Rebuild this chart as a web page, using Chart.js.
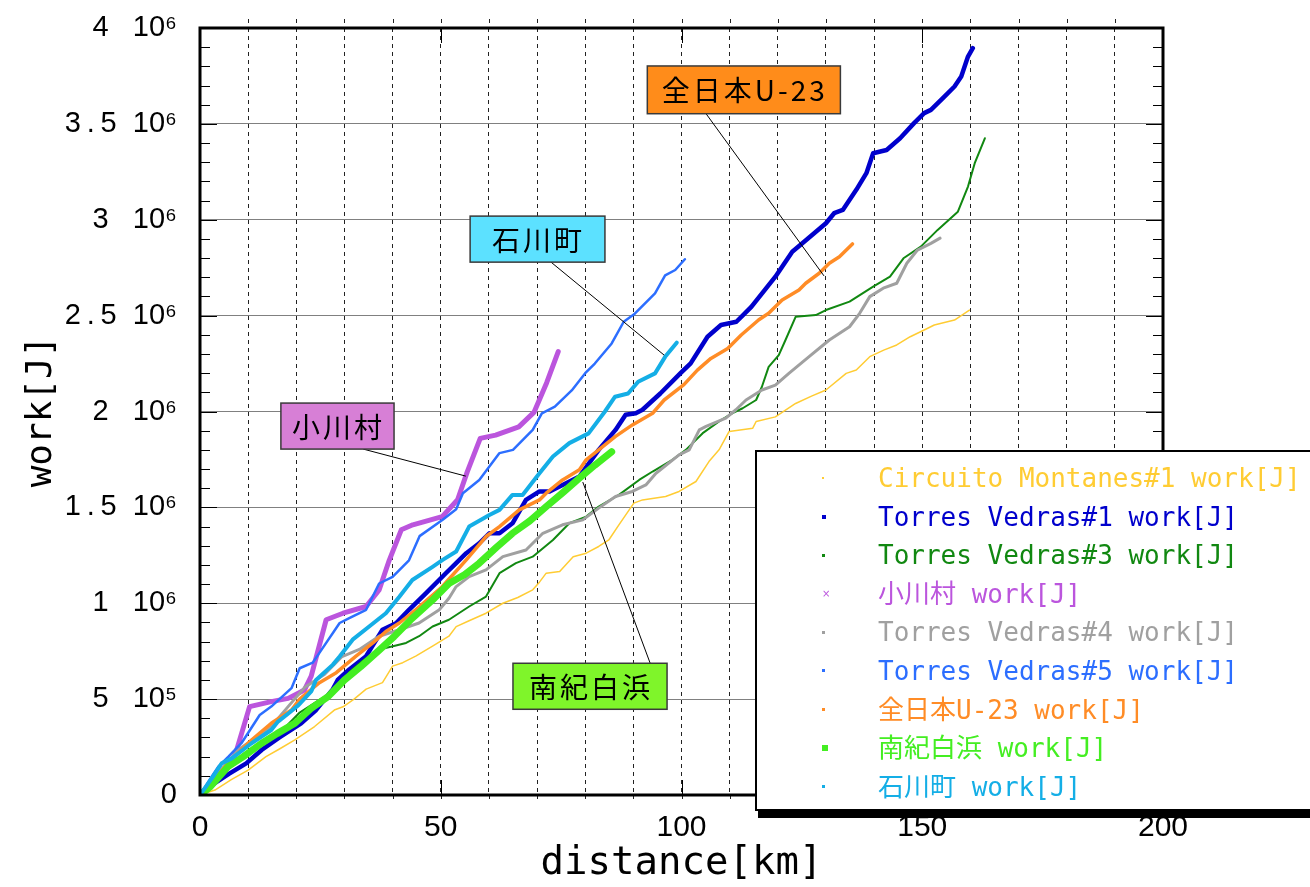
<!DOCTYPE html>
<html>
<head>
<meta charset="utf-8">
<title>work - distance</title>
<script src="https://cdn.jsdelivr.net/npm/chart.js"></script>
<style>
    html, body { margin: 0; padding: 0; background: #fff; overflow: hidden; }
    #wrap { position: relative; width: 1310px; height: 887px; }
    #legend { position: absolute; left: 755px; top: 450px; width: 600px; height: 350px; padding-top: 7px;
              border: 2px solid #000; background: #fff; box-shadow: 3px 7px 0 #000; }
    .item { position: relative; height: 38.6px; line-height: 38.6px; white-space: pre;
            font-family: "DejaVu Sans Mono", "Noto Sans CJK JP", monospace; font-size: 26px; }
    .mark { position: absolute; left: 65px; top: 18px; width: 3px; height: 3px; }
    .txt { position: absolute; left: 121px; top: 0; }
</style>
</head>
<body>
<div id="wrap">
    <canvas id="workChart" width="1310" height="887"></canvas>
    <div id="legend"></div>
</div>
<script>
// distance [km], work [10^6 J]
var circuitoMontanes1 = [[0,0],[3.1,0.026],[6.5,0.08],[10,0.13],[13.7,0.2],[16.5,0.24],[19.7,0.287],[23.8,0.357],[27.9,0.443],[29.7,0.46],[32,0.5],[34.5,0.552],[37.9,0.586],[40,0.672],[42.1,0.69],[44.8,0.724],[48.3,0.776],[51.7,0.828],[53.2,0.878],[56,0.91],[59.4,0.948],[62.9,1.0],[66,1.03],[69.1,1.07],[70.5,1.11],[71.9,1.157],[74.7,1.165],[77.5,1.243],[80.2,1.261],[82.8,1.296],[84.9,1.33],[87,1.409],[90.1,1.522],[91.9,1.539],[96.7,1.557],[99.5,1.583],[103,1.635],[105.7,1.739],[107.8,1.8],[109.9,1.896],[114.8,1.913],[115.5,1.948],[119.5,1.972],[123.7,2.042],[127,2.08],[130,2.112],[134.2,2.199],[136.3,2.216],[139.1,2.286],[142,2.32],[144.7,2.347],[147.5,2.39],[150.4,2.425],[152.5,2.451],[156.7,2.477],[159.8,2.529]];
var torresVedras1 = [[0,0],[3,0.06],[6,0.11],[9.6,0.165],[12.8,0.235],[16.5,0.3],[21,0.374],[24,0.44],[27.6,0.552],[28.6,0.6],[31,0.655],[34.5,0.724],[37.9,0.862],[40.7,0.896],[43.4,0.966],[46.9,1.052],[51,1.155],[53.2,1.209],[55.3,1.261],[58,1.313],[60.1,1.365],[62.2,1.365],[64.9,1.417],[67.7,1.539],[70.5,1.583],[72.6,1.583],[75.3,1.617],[78.8,1.661],[82.8,1.8],[86.3,1.904],[88.4,1.983],[90.5,1.991],[91.9,2.009],[95.6,2.094],[99.8,2.2],[101.9,2.251],[105.4,2.39],[108.2,2.451],[111.4,2.468],[114.5,2.546],[119.5,2.703],[123,2.833],[125.1,2.877],[130,2.982],[131.7,3.034],[133.5,3.051],[136.3,3.156],[138.4,3.243],[139.8,3.347],[142.6,3.364],[145.4,3.425],[148.3,3.504],[150.4,3.556],[151.8,3.573],[154.6,3.642],[156.7,3.695],[158.1,3.747],[159.5,3.851],[160.5,3.895]];
var torresVedras3 = [[0,0],[3,0.07],[6.1,0.165],[10,0.22],[13,0.27],[16.5,0.322],[20.7,0.43],[24.8,0.496],[29,0.56],[31,0.64],[33.8,0.7],[37.2,0.759],[40.7,0.78],[42.8,0.793],[45.5,0.828],[48.3,0.879],[51.7,0.914],[55.9,0.983],[59.4,1.035],[62.2,1.157],[65.6,1.209],[69.1,1.243],[73.3,1.33],[76.7,1.417],[80.2,1.452],[82.8,1.504],[87,1.565],[91.2,1.643],[94,1.687],[98.1,1.748],[100.9,1.8],[104.4,1.887],[107.8,1.948],[110.6,1.991],[112.7,2.017],[115.5,2.06],[116.7,2.129],[118.1,2.233],[120.2,2.294],[121.6,2.373],[123.7,2.494],[127.9,2.503],[130,2.529],[134.9,2.573],[139.8,2.651],[143.3,2.703],[146.1,2.799],[149.7,2.86],[153.2,2.947],[157.4,3.042],[159.5,3.173],[160.9,3.295],[163,3.425]];
var ogawa = [[0,0],[3.1,0.078],[7.2,0.2],[10.3,0.461],[14.8,0.487],[18.3,0.504],[21.7,0.548],[23.1,0.62],[26.2,0.914],[29.7,0.948],[34.5,0.983],[37.2,1.069],[39.3,1.224],[41.8,1.383],[44.2,1.409],[50.3,1.452],[53.5,1.54],[55.5,1.685],[58.2,1.86],[61.4,1.877],[66.2,1.92],[69.4,1.997],[72,2.15],[74.4,2.312]];
var torresVedras4 = [[0,0],[3,0.09],[7.9,0.235],[14.8,0.357],[18.3,0.461],[21.7,0.56],[25.9,0.63],[29.5,0.722],[33.1,0.759],[37.2,0.828],[41.4,0.862],[45.5,0.897],[49.7,0.966],[51.7,1.026],[53.2,1.087],[55.9,1.139],[59.4,1.174],[62.9,1.243],[67.7,1.278],[71.2,1.365],[75.3,1.409],[79.5,1.435],[82.8,1.496],[86.3,1.557],[89.8,1.583],[92.6,1.617],[94.7,1.678],[99.5,1.774],[101.6,1.8],[103.7,1.904],[105.1,1.922],[109.2,1.965],[111.3,2.009],[113.4,2.06],[116.7,2.112],[119.5,2.138],[122.3,2.199],[126.5,2.286],[130.7,2.373],[134.9,2.442],[137,2.512],[139.1,2.599],[141.9,2.643],[144.7,2.669],[146.8,2.773],[149,2.842],[151.8,2.877],[153.7,2.904]];
var torresVedras5 = [[0,0],[2,0.08],[3.8,0.148],[5.9,0.2],[8.6,0.27],[12.4,0.417],[14.8,0.461],[19,0.557],[20.7,0.661],[23.4,0.69],[24.8,0.741],[29,0.897],[31,0.922],[34.5,0.966],[37.2,1.103],[40,1.138],[43.4,1.224],[45.6,1.35],[50.4,1.435],[53.2,1.49],[54.6,1.574],[58,1.643],[62.2,1.783],[65,1.8],[69.1,1.904],[71,1.99],[73.7,2.025],[77.2,2.11],[80,2.2],[82,2.25],[85.5,2.355],[88,2.468],[90.3,2.51],[94.5,2.616],[96.6,2.71],[98.7,2.738],[100.7,2.794]];
var zenNihonU23 = [[0,0],[3,0.08],[5.9,0.17],[10.7,0.287],[14.8,0.374],[19,0.443],[20.7,0.5],[24.8,0.586],[28.3,0.638],[32.4,0.724],[35.9,0.793],[38.6,0.853],[41.4,0.897],[44.8,0.966],[50.3,1.086],[51.5,1.12],[55.3,1.226],[59.4,1.348],[62.2,1.4],[66.3,1.487],[70.5,1.539],[71.9,1.574],[75.3,1.643],[78.8,1.696],[80.2,1.748],[82.8,1.8],[86.3,1.87],[89.8,1.93],[94,1.991],[96.4,2.06],[100.5,2.14],[103.3,2.216],[106.1,2.277],[109.6,2.329],[112.4,2.399],[116,2.477],[118.1,2.512],[120.9,2.581],[124.4,2.634],[125.8,2.669],[128.6,2.721],[130.7,2.773],[132.8,2.807],[135.5,2.874]];
var nankiShirahama = [[0,0],[2,0.04],[5.9,0.15],[9,0.2],[12.8,0.27],[16,0.32],[19.7,0.374],[23,0.45],[26.6,0.513],[30,0.6],[33.4,0.67],[37,0.75],[40.3,0.826],[44,0.92],[48.3,1.017],[51.7,1.103],[55,1.15],[58,1.209],[61.5,1.29],[64.9,1.365],[68.5,1.43],[71.9,1.504],[75.5,1.58],[78.8,1.652],[82,1.72],[85.5,1.79]];
var ishikawa = [[0,0],[2.7,0.096],[4.5,0.165],[6.6,0.191],[10.7,0.27],[14.8,0.339],[16.2,0.383],[18.6,0.43],[20.5,0.47],[23.1,0.54],[24.1,0.6],[27.6,0.68],[29,0.722],[31.7,0.81],[35.2,0.88],[38.6,0.948],[41.4,1.034],[44.1,1.121],[48.3,1.19],[50.4,1.226],[53.2,1.27],[55.9,1.4],[60.1,1.46],[62.2,1.487],[64.9,1.565],[67,1.565],[70.5,1.678],[73.3,1.765],[76.7,1.835],[80.7,1.886],[84.1,2.0],[86.2,2.077],[88.9,2.094],[91,2.155],[94.5,2.199],[96.6,2.285],[99,2.359]];

var seriesLabels = ['Circuito Montanes#1 work[J]', 'Torres Vedras#1 work[J]', 'Torres Vedras#3 work[J]', '小川村 work[J]',
    'Torres Vedras#4 work[J]', 'Torres Vedras#5 work[J]', '全日本U-23 work[J]', '南紀白浜 work[J]', '石川町 work[J]'];
var seriesData = [circuitoMontanes1, torresVedras1, torresVedras3, ogawa, torresVedras4, torresVedras5, zenNihonU23, nankiShirahama, ishikawa];

var xTickLabels = { 0: '0', 50: '50', 100: '100', 150: '150', 200: '200' };
var yTickValues = [0, 5e5, 1e6, 1.5e6, 2e6, 2.5e6, 3e6, 3.5e6, 4e6];
var yTickLabels = ['0', '5   10⁵', '1   10⁶', '1\u2009.\u20095  10⁶', '2   10⁶', '2\u2009.\u20095  10⁶', '3   10⁶', '3\u2009.\u20095  10⁶', '4   10⁶'];

// callout boxes, in data coordinates
var callouts = [
    { text: '全日本U-23', fill: '#FF8C1A', box: [92.9, 3.802e6, 133.0, 3.553e6], from: [105.1, 3.553e6], to: [129.6, 2.707e6] },
    { text: '石川町', fill: '#5CE1FF', box: [56.1, 3.019e6, 84.1, 2.779e6], from: [72.9, 2.779e6], to: [96.4, 2.294e6] },
    { text: '小川村', fill: '#D77FD6', box: [16.8, 2.044e6, 40.3, 1.804e6], from: [33.9, 1.804e6], to: [55.2, 1.663e6] },
    { text: '南紀白浜', fill: '#7FF52A', box: [65.0, 0.687e6, 97.0, 0.447e6], from: [93.5, 0.687e6], to: [79.5, 1.632e6] }
];

var colors = ['#FFCC33', '#0000CC', '#118811', '#BB55DD', '#A0A0A0', '#2C6EFF', '#FF8C26', '#44EE22', '#14AEE6'];
var widths = [1.5, 4.5, 2, 5, 3, 2.5, 3.5, 7, 4];
var markSize = [2, 4, 3, 0, 3, 3, 3, 6, 3];

var datasets = seriesData.map(function (s, i) {
    return {
        label: seriesLabels[i],
        data: s.map(function (p) { return { x: p[0], y: p[1] * 1e6 }; }),
        borderColor: colors[i],
        backgroundColor: colors[i],
        borderWidth: widths[i],
        pointRadius: 0,
        tension: 0,
        borderJoinStyle: 'round',
        borderCapStyle: 'round',
        order: seriesData.length - i
    };
});

var decor = {
    id: 'decor',
    beforeDatasetsDraw: function (chart) {
        var ctx = chart.ctx, a = chart.chartArea, x = chart.scales.x, y = chart.scales.y;
        ctx.save();
        ctx.lineWidth = 1;
        ctx.strokeStyle = '#222';
        ctx.setLineDash([4, 4]);
        for (var k = 10; k < 200; k += 10) {
            var px = Math.round(x.getPixelForValue(k)) + 0.5;
            ctx.beginPath();
            ctx.moveTo(px, a.top - 9); ctx.lineTo(px, a.top);
            ctx.moveTo(px, a.bottom); ctx.lineTo(px, a.bottom + 8);
            ctx.stroke();
        }
        ctx.setLineDash([]);
        ctx.strokeStyle = '#000';
        for (var i = 1; i < 40; i++) {
            var py = Math.round(y.getPixelForValue(i * 1e5)) + 0.5;
            var len = (i % 5 === 0) ? 17 : 10;
            ctx.beginPath();
            ctx.moveTo(a.left, py); ctx.lineTo(a.left + len, py);
            ctx.moveTo(a.right, py); ctx.lineTo(a.right - len, py);
            ctx.stroke();
        }
        for (var m = 50; m < 200; m += 50) {
            var qx = Math.round(x.getPixelForValue(m)) + 0.5;
            ctx.beginPath();
            ctx.moveTo(qx, a.bottom); ctx.lineTo(qx, a.bottom - 15);
            ctx.moveTo(qx, a.top); ctx.lineTo(qx, a.top + 15);
            ctx.stroke();
        }
        ctx.restore();
    },
    afterDatasetsDraw: function (chart) {
        var ctx = chart.ctx, a = chart.chartArea, x = chart.scales.x, y = chart.scales.y;
        ctx.save();
        ctx.strokeStyle = '#000';
        ctx.lineWidth = 3;
        ctx.strokeRect(a.left, a.top, a.right - a.left, a.bottom - a.top);

        callouts.forEach(function (c) {
            ctx.lineWidth = 1;
            ctx.strokeStyle = '#000';
            ctx.beginPath();
            ctx.moveTo(x.getPixelForValue(c.from[0]), y.getPixelForValue(c.from[1]));
            ctx.lineTo(x.getPixelForValue(c.to[0]), y.getPixelForValue(c.to[1]));
            ctx.stroke();
            var x1 = x.getPixelForValue(c.box[0]), y1 = y.getPixelForValue(c.box[1]);
            var x2 = x.getPixelForValue(c.box[2]), y2 = y.getPixelForValue(c.box[3]);
            ctx.fillStyle = c.fill;
            ctx.fillRect(x1, y1, x2 - x1, y2 - y1);
            ctx.lineWidth = 1.5;
            ctx.strokeStyle = '#3a3a3a';
            ctx.strokeRect(x1, y1, x2 - x1, y2 - y1);
            ctx.fillStyle = '#000';
            ctx.font = '28px "Noto Sans CJK JP"';
            ctx.letterSpacing = '3px';
            ctx.textAlign = 'center';
            ctx.textBaseline = 'middle';
            ctx.fillText(c.text, (x1 + x2) / 2 + 1, (y1 + y2) / 2 + 1);
        });
        ctx.restore();
    }
};

var ctx = document.getElementById('workChart').getContext('2d');
var workChart = new Chart(ctx, {
    type: 'line',
    data: { datasets: datasets },
    plugins: [decor],
    options: {
        responsive: false,
        animation: false,
        layout: { padding: { top: 28, right: 147, left: 0, bottom: 0 } },
        plugins: { legend: { display: false }, tooltip: { enabled: false } },
        scales: {
            x: {
                type: 'linear',
                min: 0, max: 200,
                afterFit: function (s) { s.height = 92; },
                afterBuildTicks: function (s) {
                    s.ticks = [];
                    for (var k = 0; k <= 200; k += 10) s.ticks.push({ value: k });
                },
                ticks: {
                    autoSkip: false, maxRotation: 0, padding: 15,
                    color: '#000',
                    font: { family: '"Liberation Sans", Arial', size: 30 },
                    callback: function (v) { return xTickLabels[v] !== undefined ? xTickLabels[v] : ''; }
                },
                grid: { color: '#222', lineWidth: 1, drawTicks: false },
                border: { display: false, dash: [4, 4] },
                title: {
                    display: true, text: 'distance[km]', color: '#000',
                    font: { family: '"DejaVu Sans Mono", monospace', size: 39 },
                    padding: { top: 0, bottom: 0 }
                }
            },
            y: {
                type: 'linear',
                min: 0, max: 4e6,
                afterFit: function (s) { s.width = 200; s.paddingTop = 0; s.paddingBottom = 0; },
                afterBuildTicks: function (s) {
                    s.ticks = yTickValues.map(function (v) { return { value: v }; });
                },
                ticks: {
                    padding: 23,
                    color: '#000',
                    font: { family: '"Liberation Sans", Arial', size: 29 },
                    callback: function (v) { return yTickLabels[yTickValues.indexOf(v)]; }
                },
                grid: { color: '#808080', lineWidth: 1, drawTicks: false },
                border: { display: false },
                title: {
                    display: true, text: 'work[J]', color: '#000',
                    font: { family: '"DejaVu Sans Mono", monospace', size: 36 },
                    padding: { top: 20, bottom: 0 }
                }
            }
        }
    }
});

// legend built from the chart's datasets
var legend = document.getElementById('legend');
workChart.data.datasets.forEach(function (ds, i) {
    var row = document.createElement('div');
    row.className = 'item';
    var mark = document.createElement('span');
    mark.className = 'mark';
    if (markSize[i] > 0) {
        mark.style.width = markSize[i] + 'px';
        mark.style.height = markSize[i] + 'px';
        mark.style.top = (19 - markSize[i] / 2) + 'px';
        mark.style.background = ds.borderColor;
    } else {
        mark.textContent = '×';
        mark.style.font = '10px "DejaVu Sans"';
        mark.style.lineHeight = '10px';
        mark.style.top = '14px';
        mark.style.color = ds.borderColor;
    }
    var txt = document.createElement('span');
    txt.className = 'txt';
    txt.textContent = ds.label;
    txt.style.color = ds.borderColor;
    row.appendChild(mark);
    row.appendChild(txt);
    legend.appendChild(row);
});
</script>
</body>
</html>
